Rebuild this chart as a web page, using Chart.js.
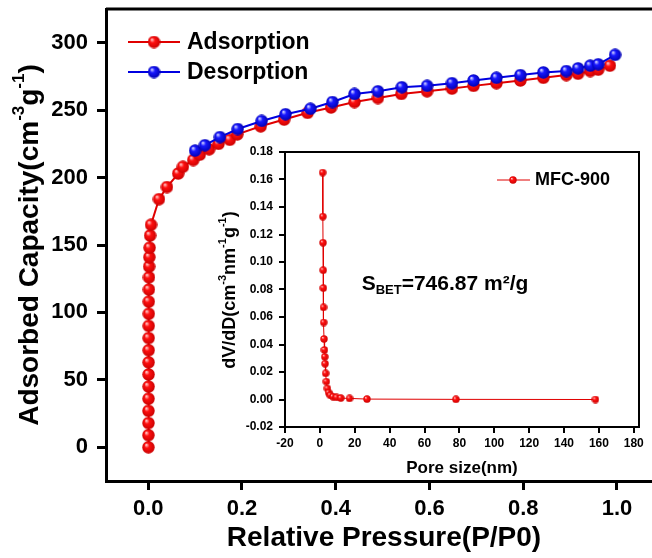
<!DOCTYPE html>
<html>
<head>
<meta charset="utf-8">
<script src="https://cdn.jsdelivr.net/npm/chart.js@4.4.0/dist/chart.umd.min.js"></script>
<style>
  html, body { margin: 0; padding: 0; background: #fff; overflow: hidden; }
  #wrap { position: relative; width: 652px; height: 558px; overflow: hidden; }
  #main { position: absolute; left: 0; top: 0; }
  #inset { position: absolute; left: 200px; top: 140px; }
</style>
</head>
<body>
<div id="wrap">
  <canvas id="main" width="660" height="558"></canvas>
  <canvas id="inset" width="452" height="340"></canvas>
</div>
<script>
// isotherm
var adsP = [0.0005, 0.0005, 0.0006, 0.0006, 0.0007, 0.0008, 0.0008, 0.0009, 0.001, 0.001, 0.0011, 0.0012, 0.0013, 0.0015, 0.0017, 0.002, 0.0025, 0.003, 0.004, 0.006,
            0.023, 0.04, 0.064, 0.074, 0.096, 0.11, 0.13, 0.15, 0.174, 0.19, 0.24, 0.29, 0.34, 0.39, 0.44, 0.49, 0.54, 0.595, 0.648, 0.694, 0.743, 0.794, 0.843, 0.892, 0.917, 0.943, 0.96, 0.985];
var adsV = [0, 9, 18, 27, 36, 45, 54, 63, 72, 81, 90, 99, 108, 117, 126, 134, 141, 148, 157, 165,
            184, 193, 203, 208, 213, 217, 221, 225, 228, 232, 238, 243, 248, 252, 256, 259, 262, 264, 266, 268, 270, 272, 274, 276, 277, 279, 280, 283];
var desP = [0.1, 0.121, 0.153, 0.191, 0.242, 0.293, 0.346, 0.393, 0.44, 0.49, 0.541, 0.595, 0.648, 0.694, 0.743, 0.794, 0.843, 0.892, 0.917, 0.943, 0.96, 0.996];
var desV = [220, 224, 230, 236, 242, 247, 251, 256, 262, 264, 267, 268, 270, 272, 274, 276, 278, 279, 281, 283, 284, 291];
var pressTicks = [0, 0.2, 0.4, 0.6, 0.8, 1.0];
var capTicks = [0, 50, 100, 150, 200, 250, 300];

// pore size distribution (inset)
var poreD = [1.6, 1.7, 1.8, 1.9, 2.0, 2.1, 2.2, 2.4, 2.6, 2.8, 3.0, 3.3, 3.7, 4.3, 5.0, 6.0, 7.5, 9.5, 12, 17, 27, 78, 158];
var poreV = [0.165, 0.133, 0.114, 0.094, 0.081, 0.067, 0.056, 0.044, 0.036, 0.031, 0.026, 0.019, 0.013, 0.008, 0.005, 0.003, 0.002, 0.0015, 0.001, 0.0008, 0.0003, 0.0001, 0.0];
var poreTicksX = [-20, 0, 20, 40, 60, 80, 100, 120, 140, 160, 180];
var poreTicksY = [-0.02, 0, 0.02, 0.04, 0.06, 0.08, 0.10, 0.12, 0.14, 0.16, 0.18];

var FONT = '"Liberation Sans", Arial, sans-serif';

function ball(d, light, base, dark) {
  var c = document.createElement('canvas');
  c.width = c.height = d;
  var g = c.getContext('2d');
  var r = d / 2;
  var grad = g.createRadialGradient(r * 0.65, r * 0.6, r * 0.05, r, r, r);
  grad.addColorStop(0, light);
  grad.addColorStop(0.35, base);
  grad.addColorStop(1, dark);
  g.fillStyle = grad;
  g.beginPath();
  g.arc(r, r, r - 0.3, 0, Math.PI * 2);
  g.fill();
  return c;
}
var redBall = ball(13, '#ffd0d0', '#ff1010', '#c80000');
var blueBall = ball(13, '#d8d8ff', '#1818ff', '#0000b0');
var redSmall = ball(8, '#ffc0c0', '#ff1010', '#c80000');

function pts(xs, ys) {
  var out = [];
  for (var i = 0; i < xs.length; i++) out.push({ x: xs[i], y: ys[i] });
  return out;
}

// text with super/subscripts: parts = [[text, 0|1|-1], ...]
function richText(ctx, parts, x, y, size, rot) {
  var small = Math.round(size * 0.62);
  ctx.save();
  ctx.translate(x, y);
  ctx.rotate(rot || 0);
  var w = 0;
  parts.forEach(function (p) {
    ctx.font = 'bold ' + (p[1] ? small : size) + 'px ' + FONT;
    w += ctx.measureText(p[0]).width;
  });
  var cx = -w / 2;
  ctx.fillStyle = '#000';
  ctx.textBaseline = 'middle';
  ctx.textAlign = 'left';
  parts.forEach(function (p) {
    ctx.font = 'bold ' + (p[1] ? small : size) + 'px ' + FONT;
    var dy = p[1] === 1 ? -size * 0.38 : (p[1] === -1 ? size * 0.3 : 0);
    ctx.fillText(p[0], cx, dy);
    cx += ctx.measureText(p[0]).width;
  });
  ctx.restore();
}

function keepTicks(list) {
  return function (scale) {
    scale.ticks = list.map(function (v) { return { value: v }; });
  };
}
function fixSize(prop, v) {
  return function (s) {
    s[prop] = v;
    s.paddingTop = 0; s.paddingBottom = 0; s.paddingLeft = 0; s.paddingRight = 0;
  };
}

var mainDeco = {
  id: 'mainDeco',
  afterDraw: function (chart) {
    var ctx = chart.ctx, a = chart.chartArea;
    ctx.save();
    ctx.strokeStyle = '#000';
    ctx.lineWidth = 3;
    ctx.beginPath();
    ctx.moveTo(a.left, a.top);
    ctx.lineTo(a.right, a.top);
    ctx.lineTo(a.right, a.bottom);
    ctx.stroke();
    // legend
    var items = [['Adsorption', '#e00000', redBall, 42], ['Desorption', '#0000e0', blueBall, 72]];
    items.forEach(function (it) {
      ctx.strokeStyle = it[1];
      ctx.lineWidth = 2;
      ctx.beginPath();
      ctx.moveTo(128, it[3]);
      ctx.lineTo(180, it[3]);
      ctx.stroke();
      ctx.drawImage(it[2], 154 - 6.5, it[3] - 6.5);
      ctx.fillStyle = '#000';
      ctx.font = 'bold 23px ' + FONT;
      ctx.textBaseline = 'middle';
      ctx.fillText(it[0], 187, it[3] + 1);
    });
    ctx.restore();
    richText(ctx, [['Adsorbed Capacity(cm', 0], ['-3', 1], ['g', 0], ['-1', 1], [')', 0]], 30, 245, 28, -Math.PI / 2);
    richText(ctx, [['Relative Pressure(P/P0)', 0]], 384, 538, 28, 0);
  }
};

new Chart(document.getElementById('main'), {
  type: 'scatter',
  data: {
    datasets: [
      {
        label: 'Adsorption',
        data: pts(adsP, adsV),
        showLine: true,
        borderColor: '#e00000',
        borderWidth: 2,
        pointStyle: redBall,
        order: 2
      },
      {
        label: 'Desorption',
        data: pts(desP, desV),
        showLine: true,
        borderColor: '#0000e0',
        borderWidth: 2,
        pointStyle: blueBall,
        order: 1
      }
    ]
  },
  options: {
    responsive: false,
    animation: false,
    events: [],
    devicePixelRatio: 1,
    layout: { padding: { left: 0, top: 9, right: 4, bottom: 0 } },
    plugins: { legend: { display: false }, tooltip: { enabled: false } },
    scales: {
      x: {
        type: 'linear',
        min: -0.09,
        max: 1.079,
        afterBuildTicks: keepTicks(pressTicks),
        afterFit: fixSize('height', 77),
        border: { color: '#000', width: 3 },
        grid: { drawOnChartArea: false, color: '#000', lineWidth: 3, tickLength: 9 },
        ticks: {
          color: '#000',
          padding: 6,
          maxRotation: 0,
          font: { family: FONT, size: 22, weight: 'bold' },
          callback: function (v) { return v.toFixed(1); }
        }
      },
      y: {
        min: -25,
        max: 325,
        afterBuildTicks: keepTicks(capTicks),
        afterFit: fixSize('width', 106),
        border: { color: '#000', width: 3 },
        grid: { drawOnChartArea: false, color: '#000', lineWidth: 3, tickLength: 9 },
        ticks: {
          color: '#000',
          padding: 9,
          font: { family: FONT, size: 22, weight: 'bold' }
        }
      }
    }
  },
  plugins: [mainDeco]
});

var insetDeco = {
  id: 'insetDeco',
  beforeDraw: function (chart) {
    var ctx = chart.ctx, a = chart.chartArea;
    ctx.save();
    ctx.fillStyle = '#fff';
    ctx.fillRect(a.left, a.top, a.right - a.left, a.bottom - a.top);
    ctx.restore();
  },
  afterDraw: function (chart) {
    var ctx = chart.ctx, a = chart.chartArea;
    ctx.save();
    ctx.strokeStyle = '#000';
    ctx.lineWidth = 2;
    ctx.beginPath();
    ctx.moveTo(a.left, a.top);
    ctx.lineTo(a.right, a.top);
    ctx.lineTo(a.right, a.bottom);
    ctx.stroke();
    // legend
    ctx.strokeStyle = '#e00000';
    ctx.lineWidth = 1;
    ctx.beginPath();
    ctx.moveTo(297, 40);
    ctx.lineTo(330, 40);
    ctx.stroke();
    ctx.drawImage(redSmall, 313 - 4, 40 - 4);
    ctx.fillStyle = '#000';
    ctx.font = 'bold 18px ' + FONT;
    ctx.textBaseline = 'middle';
    ctx.fillText('MFC-900', 335, 40);
    ctx.restore();
    richText(ctx, [['S', 0], ['BET', -1], ['=746.87 m\u00b2/g', 0]], 245, 144, 21, 0);
    richText(ctx, [['dV/dD(cm', 0], ['-3', 1], ['nm', 0], ['-1', 1], ['g', 0], ['-1', 1], [')', 0]], 30, 150, 18, -Math.PI / 2);
    richText(ctx, [['Pore size(nm)', 0]], 262, 328, 17, 0);
  }
};

new Chart(document.getElementById('inset'), {
  type: 'scatter',
  data: {
    datasets: [{
      label: 'MFC-900',
      data: pts(poreD, poreV),
      showLine: true,
      borderColor: '#e00000',
      borderWidth: 1,
      pointStyle: redSmall
    }]
  },
  options: {
    responsive: false,
    animation: false,
    events: [],
    devicePixelRatio: 1,
    layout: { padding: { left: 0, top: 12, right: 13, bottom: 0 } },
    plugins: { legend: { display: false }, tooltip: { enabled: false } },
    scales: {
      x: {
        type: 'linear',
        min: -20,
        max: 183,
        afterBuildTicks: keepTicks(poreTicksX),
        afterFit: fixSize('height', 53),
        border: { color: '#000', width: 2 },
        grid: { drawOnChartArea: false, color: '#000', lineWidth: 2, tickLength: 6 },
        ticks: {
          color: '#000',
          padding: 3,
          maxRotation: 0,
          font: { family: FONT, size: 12, weight: 'bold' }
        }
      },
      y: {
        min: -0.02,
        max: 0.18,
        afterBuildTicks: keepTicks(poreTicksY),
        afterFit: fixSize('width', 85),
        border: { color: '#000', width: 2 },
        grid: { drawOnChartArea: false, color: '#000', lineWidth: 2, tickLength: 6 },
        ticks: {
          color: '#000',
          padding: 6,
          font: { family: FONT, size: 12, weight: 'bold' },
          callback: function (v) { return v.toFixed(2); }
        }
      }
    }
  },
  plugins: [insetDeco]
});
</script>
</body>
</html>
